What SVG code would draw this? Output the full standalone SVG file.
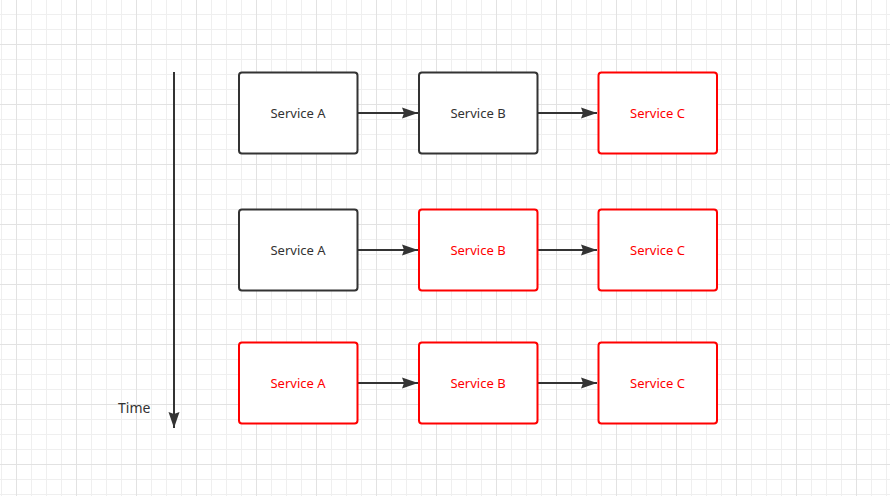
<svg xmlns="http://www.w3.org/2000/svg" width="890" height="496" viewBox="0 0 890 496">
<defs>
<pattern id="minor" x="1" y="14" width="15" height="15" patternUnits="userSpaceOnUse">
<path d="M0 0.5H15M0.5 0V15" fill="none" stroke="#efefef" stroke-width="1"/>
</pattern>
<pattern id="major" x="16" y="44" width="60" height="60" patternUnits="userSpaceOnUse">
<path d="M0 0.5H60M0.5 0V60" fill="none" stroke="#e2e2e2" stroke-width="1"/>
</pattern>
<marker id="arr" markerWidth="16" markerHeight="12" refX="16" refY="6" orient="auto" markerUnits="userSpaceOnUse">
<path d="M0 0.5L16 6L0 11.5L2 6Z" fill="#333"/>
</marker>
</defs>
<style>
.box rect{fill:#fff;stroke:#333;stroke-width:2}
.box text{fill:#333;font-family:"Noto Sans","Open Sans",sans-serif;font-size:13px;text-anchor:middle;dominant-baseline:central}
.box.red rect{stroke:#ff0000}
.box.red text{fill:#ff0000}
.conn{stroke:#333;stroke-width:2;fill:none}
.lbl{fill:#333;font-family:"Noto Sans","Open Sans",sans-serif;font-size:14px}
</style>
<rect width="890" height="496" fill="#fff"/>
<rect width="890" height="496" fill="url(#minor)"/>
<rect width="890" height="496" fill="url(#major)"/>
<g id="connectors">
<line class="conn" x1="174" y1="72" x2="174" y2="428" marker-end="url(#arr)"/>
<line class="conn" x1="358" y1="113" x2="418" y2="113" marker-end="url(#arr)"/>
<line class="conn" x1="538" y1="113" x2="597" y2="113" marker-end="url(#arr)"/>
<line class="conn" x1="358" y1="250" x2="418" y2="250" marker-end="url(#arr)"/>
<line class="conn" x1="538" y1="250" x2="597" y2="250" marker-end="url(#arr)"/>
<line class="conn" x1="358" y1="383" x2="418" y2="383" marker-end="url(#arr)"/>
<line class="conn" x1="538" y1="383" x2="597" y2="383" marker-end="url(#arr)"/>
</g>
<g id="time-label"><text class="lbl" x="118" y="413">Time</text></g>
<g id="r1a" class="box"><rect x="239" y="72.5" width="118.5" height="81" rx="3"/><text x="298" y="113">Service A</text></g>
<g id="r1b" class="box"><rect x="419" y="72.5" width="118.5" height="81" rx="3"/><text x="478" y="113">Service B</text></g>
<g id="r1c" class="box red"><rect x="598.5" y="72.5" width="118.5" height="81" rx="3"/><text x="657.5" y="113">Service C</text></g>
<g id="r2a" class="box"><rect x="239" y="209.5" width="118.5" height="81" rx="3"/><text x="298" y="250">Service A</text></g>
<g id="r2b" class="box red"><rect x="419" y="209.5" width="118.5" height="81" rx="3"/><text x="478" y="250">Service B</text></g>
<g id="r2c" class="box red"><rect x="598.5" y="209.5" width="118.5" height="81" rx="3"/><text x="657.5" y="250">Service C</text></g>
<g id="r3a" class="box red"><rect x="239" y="342.5" width="118.5" height="81" rx="3"/><text x="298" y="383">Service A</text></g>
<g id="r3b" class="box red"><rect x="419" y="342.5" width="118.5" height="81" rx="3"/><text x="478" y="383">Service B</text></g>
<g id="r3c" class="box red"><rect x="598.5" y="342.5" width="118.5" height="81" rx="3"/><text x="657.5" y="383">Service C</text></g>
</svg>
